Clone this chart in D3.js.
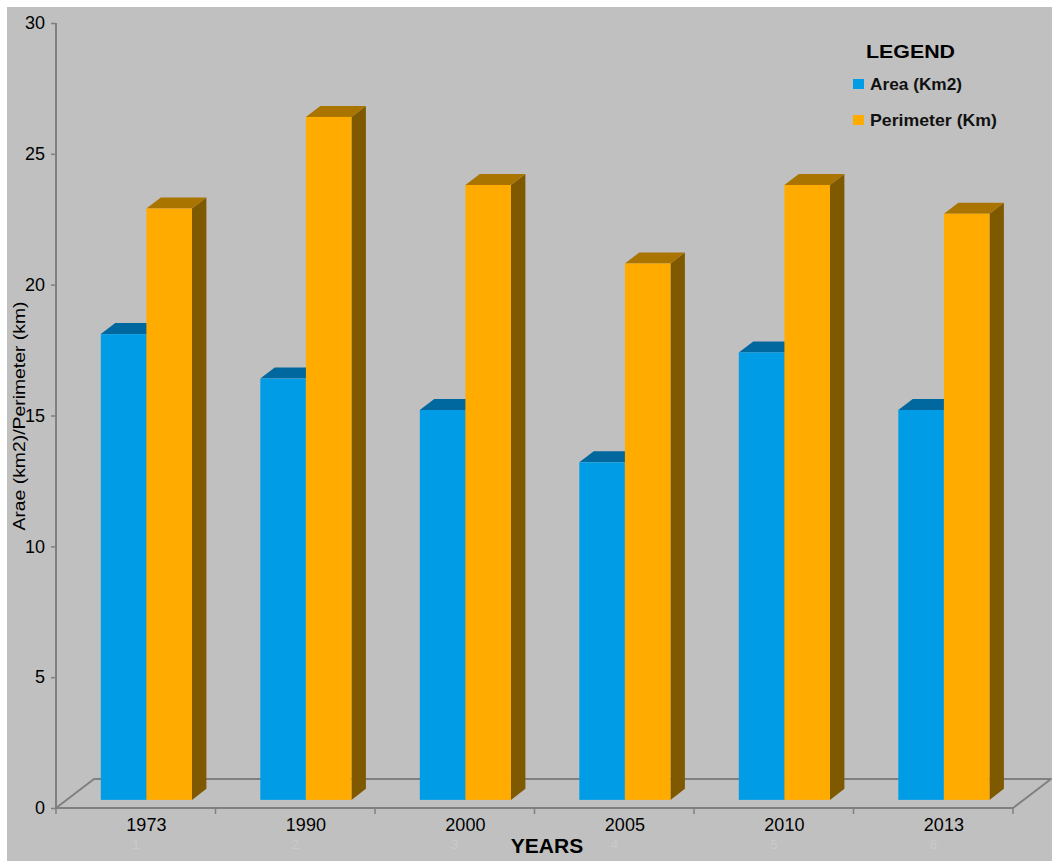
<!DOCTYPE html>
<html>
<head>
<meta charset="utf-8">
<script src="https://cdn.jsdelivr.net/npm/d3@7"></script>
<style>
  html, body { margin: 0; padding: 0; background: #ffffff; }
  svg { display: block; }
  text { font-family: "Liberation Sans", Arial, sans-serif; }
</style>
</head>
<body>
<svg id="chart" width="1052" height="861"></svg>
<script>
// ---- data ----
const years = ["1973", "1990", "2000", "2005", "2010", "2013"];
const areaValues = [17.8, 16.1, 14.9, 12.9, 17.1, 14.9];
const perimeterValues = [22.6, 26.1, 23.5, 20.5, 23.5, 22.4];
const seriesNames = ["Area (Km2)", "Perimeter (Km)"];
const yTicks = [0, 5, 10, 15, 20, 25, 30];
const categoryNumbers = ["1", "2", "3", "4", "5", "6"];

// ---- styles ----
const colors = {
  "Area (Km2)": { front: "#009de6", top: "#00679f", side: "#005a8a" },
  "Perimeter (Km)": { front: "#ffab00", top: "#aa7400", side: "#7f5900" }
};
const legendWidths = { "Area (Km2)": 92, "Perimeter (Km)": 127 };
const bg = "#c0c0c0";
const axisColor = "#808080";

const svg = d3.select("#chart");
const W = 1052, H = 861;

svg.append("rect").attr("x", 7).attr("y", 7).attr("width", W - 7).attr("height", H - 7).attr("fill", bg);

// ---- scales ----
const x0 = d3.scaleBand().domain(years).range([56, 1013]).padding(0);
const x1 = d3.scaleBand().domain(seriesNames).range([0, x0.bandwidth()]).paddingInner(0).paddingOuter(0.75);
const y = d3.scaleLinear().domain([0, 30]).range([808, 23]);

// oblique depth vector (full floor depth)
const DX = 38, DY = -29;
const f0 = 0.28, f1 = 0.66; // bar front / back depth fractions
const proj = (px, v, f) => [px + f * DX, y(v) + f * DY];

// ---- floor ----
const floorG = svg.append("g");
const fl = [proj(x0.range()[0], 0, 0), proj(x0.range()[1], 0, 0), proj(x0.range()[1], 0, 1), proj(x0.range()[0], 0, 1)];
floorG.append("polygon")
  .attr("points", fl.map(p => p.join(",")).join(" "))
  .attr("fill", "none")
  .attr("stroke", axisColor)
  .attr("stroke-width", 2)
  .attr("stroke-linejoin", "round");

// ---- y axis ----
const yAxisG = svg.append("g").attr("transform", "translate(56,0)");
yAxisG.call(d3.axisLeft(y).tickValues(yTicks).tickSize(5).tickPadding(6).tickFormat(d3.format("d")));
yAxisG.select(".domain").attr("stroke", axisColor).attr("stroke-width", 2).attr("d", `M0,${y(30)}V${y(0)}`);
yAxisG.selectAll(".tick line").attr("stroke", axisColor).attr("stroke-width", 1.5);
yAxisG.selectAll(".tick text")
  .attr("fill", "#000")
  .attr("font-size", 18)
  .attr("font-family", "Liberation Sans, Arial, sans-serif");

// ---- x axis ticks (category separators) ----
const sepG = svg.append("g");
const boundaries = years.map(d => x0(d)).concat([x0.range()[1]]);
sepG.selectAll("line").data(boundaries).join("line")
  .attr("x1", d => d).attr("x2", d => d)
  .attr("y1", y(0)).attr("y2", y(0) + 6)
  .attr("stroke", axisColor).attr("stroke-width", 1.5);

// ---- bars ----
const barsG = svg.append("g");
years.forEach((yr, i) => {
  const vals = [areaValues[i], perimeterValues[i]];
  seriesNames.forEach((s, j) => {
    const v = vals[j];
    const xl = x0(yr) + x1(s);
    const xr = xl + x1.bandwidth();
    const c = colors[s];
    const g = barsG.append("g");
    const side = [proj(xr, 0, f0), proj(xr, v, f0), proj(xr, v, f1), proj(xr, 0, f1)];
    g.append("polygon").attr("points", side.map(p => p.join(",")).join(" ")).attr("fill", c.side);
    const top = [proj(xl, v, f0), proj(xr, v, f0), proj(xr, v, f1), proj(xl, v, f1)];
    g.append("polygon").attr("points", top.map(p => p.join(",")).join(" ")).attr("fill", c.top);
    const a = proj(xl, v, f0), b = proj(xr, 0, f0);
    g.append("rect")
      .attr("x", a[0]).attr("y", a[1])
      .attr("width", b[0] - a[0]).attr("height", b[1] - a[1])
      .attr("fill", c.front);
  });
});

// ---- category labels ----
const labelG = svg.append("g");
labelG.selectAll("text.yr").data(years).join("text")
  .attr("class", "yr")
  .attr("x", d => x0(d) + x0.bandwidth() / 2 + f0 * DX)
  .attr("y", 831)
  .attr("text-anchor", "middle")
  .attr("font-size", 18)
  .attr("fill", "#000")
  .text(d => d);

labelG.selectAll("text.num").data(categoryNumbers).join("text")
  .attr("class", "num")
  .attr("x", (d, i) => x0(years[i]) + x0.bandwidth() / 2)
  .attr("y", 849)
  .attr("text-anchor", "middle")
  .attr("font-size", 13)
  .attr("fill", "#cacaca")
  .text(d => d);

// ---- axis titles ----
svg.append("text")
  .attr("x", 547).attr("y", 853)
  .attr("text-anchor", "middle")
  .attr("font-size", 21)
  .attr("font-weight", "bold")
  .attr("fill", "#000")
  .text("YEARS");

svg.append("text")
  .attr("transform", "translate(25,416) rotate(-90)")
  .attr("text-anchor", "middle")
  .attr("font-size", 16)
  .attr("textLength", 229)
  .attr("lengthAdjust", "spacingAndGlyphs")
  .attr("fill", "#000")
  .text("Arae (km2)/Perimeter (km)");

// ---- legend ----
const leg = svg.append("g");
leg.append("text")
  .attr("x", 866).attr("y", 58)
  .attr("font-size", 19)
  .attr("font-weight", "bold")
  .attr("textLength", 89)
  .attr("lengthAdjust", "spacingAndGlyphs")
  .attr("fill", "#000")
  .text("LEGEND");
const legendY = d3.scalePoint().domain(seriesNames).range([84, 120]);
seriesNames.forEach(s => {
  leg.append("rect")
    .attr("x", 853).attr("y", legendY(s) - 5)
    .attr("width", 11).attr("height", 10)
    .attr("fill", colors[s].front);
  leg.append("text")
    .attr("x", 870).attr("y", legendY(s) + 6)
    .attr("font-size", 17)
    .attr("font-weight", "bold")
    .attr("textLength", legendWidths[s])
    .attr("lengthAdjust", "spacingAndGlyphs")
    .attr("fill", "#111")
    .text(s);
});
</script>
</body>
</html>
